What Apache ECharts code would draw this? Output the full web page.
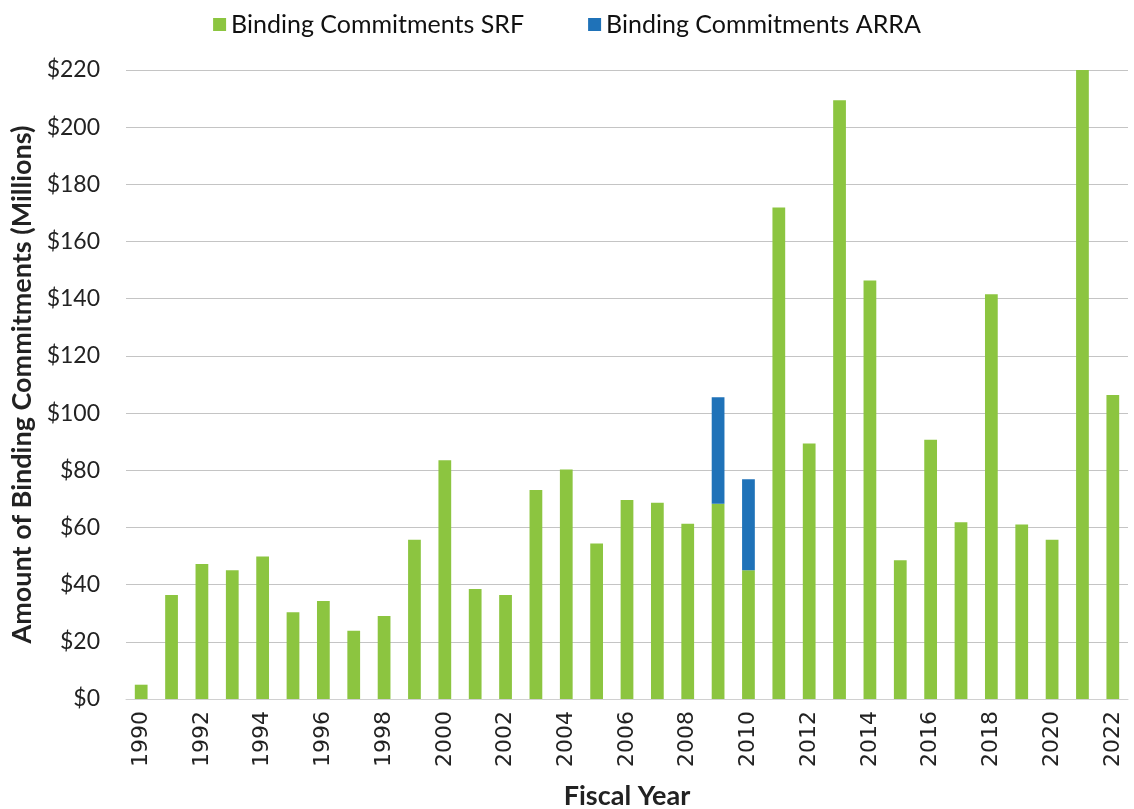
<!DOCTYPE html>
<html>
<head>
<meta charset="utf-8">
<script src="https://cdn.jsdelivr.net/npm/echarts@6/dist/echarts.min.js"></script>
<style>
  html, body { margin: 0; padding: 0; background: #fff; }
  #chart { width: 1134px; height: 809px; }
</style>
</head>
<body>
<div id="chart"></div>
<script>
// fiscal years 1990..2022
const years = ['1990', '1991', '1992', '1993', '1994', '1995', '1996', '1997', '1998', '1999',
  '2000', '2001', '2002', '2003', '2004', '2005', '2006', '2007', '2008', '2009',
  '2010', '2011', '2012', '2013', '2014', '2015', '2016', '2017', '2018', '2019',
  '2020', '2021', '2022']

// SRF commitments, $ millions
const srfValues = [5, 36.4, 47.2, 45, 49.8, 30.3, 34.3, 23.9, 29, 55.7,
  83.5, 38.5, 36.4, 73.1, 80.3, 54.4, 69.6, 68.6, 61.3, 68.3,
  45, 171.9, 89.4, 209.4, 146.4, 48.5, 90.7, 61.8, 141.6, 61,
  55.7, 220, 106.3]

// ARRA commitments, only 2009 and 2010
const arraValues = [null, null, null, null, null, null, null, null, null, null,
  null, null, null, null, null, null, null, null, null, 37.2,
  31.9, null, null, null, null, null, null, null, null, null,
  null, null, null]

const yTicks = { min: 0, max: 220, interval: 20 }

const font = 'Lato, "Open Sans", sans-serif'
const chart = echarts.init(document.getElementById('chart'))

chart.setOption({
  animation: false,
  legend: {
    top: 7,
    left: 'center',
    itemWidth: 13,
    itemHeight: 13,
    itemGap: 64,
    icon: 'rect',
    textStyle: { fontSize: 25, color: '#111', fontFamily: font },
  },
  grid: {
    top: 70,
    bottom: 110,
    left: 126,
    right: 6,
    outerBoundsMode: 'none',
  },
  xAxis: {
    type: 'category',
    data: years,
    name: 'Fiscal Year',
    nameLocation: 'middle',
    nameGap: 84,
    nameTextStyle: { fontSize: 27, fontWeight: 'bold', color: '#222', fontFamily: font },
    axisLine: { lineStyle: { color: '#d0d0d0' } },
    axisTick: { show: false },
    axisLabel: {
      interval: 1,
      rotate: 90,
      fontSize: 22,
      color: '#222',
      margin: 12,
      fontFamily: 'DejaVu Sans, sans-serif',
    },
  },
  yAxis: {
    type: 'value',
    min: yTicks.min,
    max: yTicks.max,
    interval: yTicks.interval,
    name: 'Amount of Binding Commitments (Millions)',
    nameLocation: 'middle',
    nameGap: 86,
    nameTextStyle: { fontSize: 27, fontWeight: 'bold', color: '#222', fontFamily: font },
    axisLine: { show: false },
    axisTick: { show: false },
    splitLine: { lineStyle: { color: '#c4c4c4', width: 1 } },
    axisLabel: {
      fontSize: 23,
      color: '#222',
      margin: 26,
      fontFamily: font,
      formatter: v => '$' + v,
    },
  },
  series: [
    {
      name: 'Binding Commitments SRF',
      type: 'bar',
      stack: 'total',
      data: srfValues,
      barWidth: '42%',
      itemStyle: { color: '#8cc540' },
    },
    {
      name: 'Binding Commitments ARRA',
      type: 'bar',
      stack: 'total',
      data: arraValues,
      barWidth: '42%',
      itemStyle: { color: '#1f72b8' },
    },
  ],
})
</script>
</body>
</html>
